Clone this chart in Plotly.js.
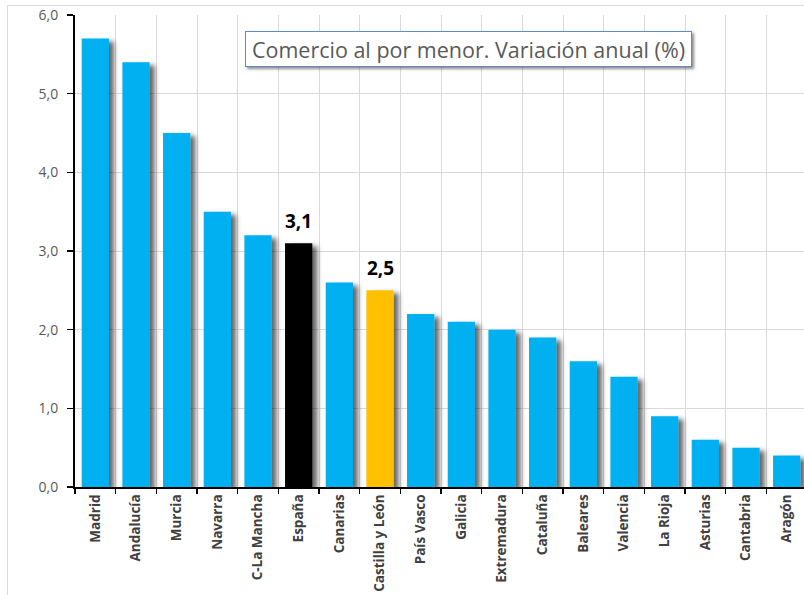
<!DOCTYPE html>
<html><head><meta charset="utf-8">
<script src="https://cdn.plot.ly/plotly-3.0.1.min.js"></script>
<style>
html,body{margin:0;padding:0;overflow:hidden;background:#fff;width:804px;height:595px}
#frame{position:absolute;left:7px;top:5px;width:900px;height:700px;border-left:1px solid #d9d9d9;border-top:1px solid #d9d9d9;}
#chart{position:absolute;left:0;top:0;width:807px;height:595px}
</style></head><body><div id="frame"></div><div id="chart"></div>
<script>
const regions = ["Madrid","Andalucía","Murcia","Navarra","C-La Mancha","España","Canarias","Castilla y León","País Vasco","Galicia","Extremadura","Cataluña","Baleares","Valencia","La Rioja","Asturias","Cantabria","Aragón"];
const values = [5.7,5.4,4.5,3.5,3.2,3.1,2.6,2.5,2.2,2.1,2.0,1.9,1.6,1.4,0.9,0.6,0.5,0.4];
const yTickValues = [0,1,2,3,4,5,6];
const highlighted = {"España":"#000000","Castilla y León":"#FFC000"};
const chartTitle = "Comercio al por menor. Variación anual (%)";

const fmt = v => v.toFixed(1).replace('.', ',');
const colors = regions.map(r => highlighted[r] || "#00B0F0");

const trace = {
  type: 'bar', x: regions, y: values,
  marker: {color: colors, line: {width: 0}},
  hoverinfo: 'none'
};

const annotations = Object.keys(highlighted).map(r => {
  const i = regions.indexOf(r);
  return {x: r, y: values[i], xref: 'x', yref: 'y', text: fmt(values[i]),
    showarrow: false, yanchor: 'bottom', yshift: 7,
    font: {family: 'Open Sans', size: 19, color: '#000', weight: 'bold'}};
});
annotations.push({
  xref: 'paper', yref: 'paper', x: (468.5-75)/732, y: (487-49.5)/472,
  xanchor: 'center', yanchor: 'middle', text: chartTitle, showarrow: false,
  width: 443, height: 32, align: 'center', valign: 'middle',
  bgcolor: '#ffffff', bordercolor: '#5B8BD0', borderwidth: 1, borderpad: 1,
  font: {family: 'Open Sans', size: 21.5, color: '#595959'}
});

const layout = {
  width: 807, height: 595,
  margin: {l: 75, r: 0, t: 15, b: 108},
  paper_bgcolor: 'rgba(0,0,0,0)', plot_bgcolor: '#ffffff',
  bargap: 0.33, showlegend: false,
  separators: ',.',
  xaxis: {
    type: 'category', tickson: 'boundaries', ticks: 'outside', ticklen: 5,
    tickcolor: '#000', tickwidth: 1.5, showline: true, linecolor: '#000', linewidth: 2,
    showgrid: true, gridcolor: '#d9d9d9', gridwidth: 1, tickangle: -90,
    tickfont: {family: 'Open Sans', size: 13.5, color: '#404040', weight: 'bold'},
    fixedrange: true
  },
  yaxis: {
    range: [0, 6], tickvals: yTickValues, ticktext: yTickValues.map(fmt),
    ticks: 'outside', ticklen: 6, tickcolor: '#000', tickwidth: 1.5,
    showline: true, linecolor: '#000', linewidth: 2, zeroline: false,
    showgrid: true, gridcolor: '#d9d9d9', gridwidth: 1,
    tickfont: {family: 'Open Sans', size: 14, color: '#595959'},
    ticklabelstandoff: 6, fixedrange: true
  },
  annotations: annotations
};

Plotly.newPlot('chart', [trace], layout, {displayModeBar: false, staticPlot: true}).then(gd => {
  const svg = gd.querySelector('svg.main-svg');
  const ns = 'http://www.w3.org/2000/svg';
  let defs = svg.querySelector('defs');
  if (!defs) { defs = document.createElementNS(ns, 'defs'); svg.insertBefore(defs, svg.firstChild); }
  function addFilter(id, dx, dy, sd, op) {
    const f = document.createElementNS(ns, 'filter');
    f.setAttribute('id', id); f.setAttribute('x', '-20%'); f.setAttribute('y', '-20%');
    f.setAttribute('width', '160%'); f.setAttribute('height', '160%');
    const s = document.createElementNS(ns, 'feDropShadow');
    s.setAttribute('dx', dx); s.setAttribute('dy', dy); s.setAttribute('stdDeviation', sd);
    s.setAttribute('flood-color', '#000'); s.setAttribute('flood-opacity', op);
    f.appendChild(s); defs.appendChild(f);
  }
  addFilter('barShadow', 5, 3, 2.5, 0.6);
  addFilter('boxShadow', 2, 2, 1.5, 0.45);
  gd.querySelectorAll('.bars .point path').forEach(p => p.setAttribute('filter', 'url(#barShadow)'));
  gd.querySelectorAll('.annotation').forEach(a => {
    const r = a.querySelector('rect.bg');
    if (r && r.getAttribute('style') && r.getAttribute('style').indexOf('stroke-width: 1') >= 0) r.setAttribute('filter', 'url(#boxShadow)');
  });
});
</script></body></html>
